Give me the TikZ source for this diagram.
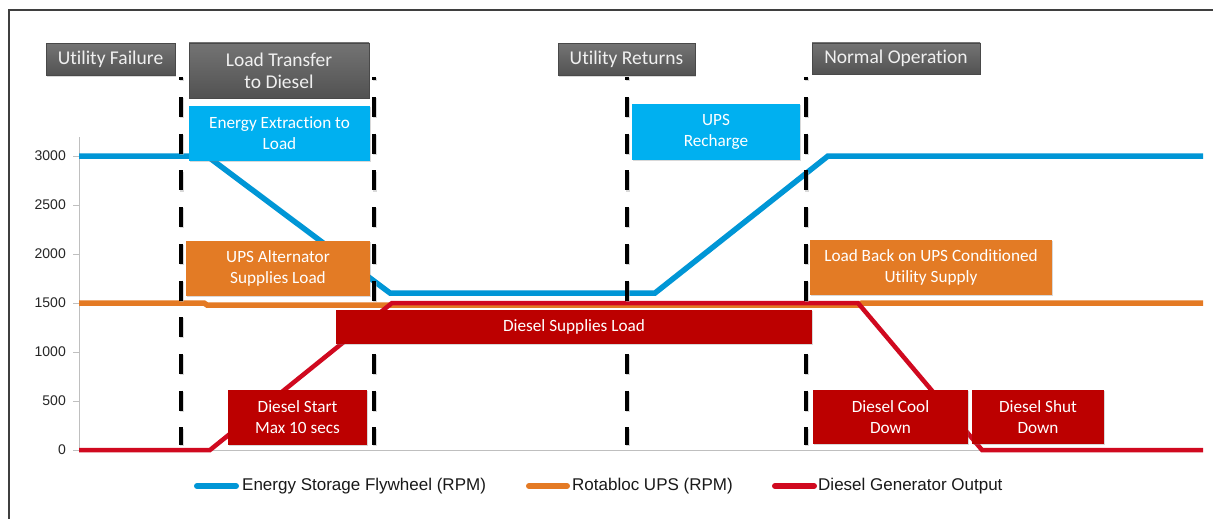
\documentclass[tikz,border=0pt]{standalone}
\usepackage{fontspec}
\newfontfamily\boxfont[Ligatures=NoCommon]{Carlito}
\newfontfamily\axfont{Liberation Sans}
\usetikzlibrary{shadows}
\definecolor{flyblue}{HTML}{0096D6}
\definecolor{upsorange}{HTML}{E47A24}
\definecolor{dieselred}{HTML}{D0091F}
\definecolor{boxblue}{HTML}{00B0F0}
\definecolor{boxorange}{HTML}{E37B25}
\definecolor{boxred}{HTML}{BC0000}
\definecolor{hdrgray}{HTML}{5B5B5B}
\definecolor{hdrtext}{HTML}{F0F0F0}
\definecolor{axgray}{HTML}{BFBFBF}
\definecolor{framegray}{HTML}{3F3F3F}
\begin{document}
\begin{tikzpicture}[x=1pt,y=-1pt,
  basebox/.style={inner sep=0pt, align=center, text=white,
    font=\boxfont\fontsize{17.2}{21}\selectfont,
    drop shadow={shadow xshift=1.2pt, shadow yshift=-1.2pt, opacity=0.3}},
  hdrbox/.style={basebox, top color=hdrgray!85!white, bottom color=hdrgray!90!black,
    draw=hdrgray!80!black, line width=0.6pt, text=hdrtext,
    font=\boxfont\fontsize{19.5}{22}\selectfont},
  bluebox/.style={basebox, fill=boxblue},
  orangebox/.style={basebox, fill=boxorange},
  redbox/.style={basebox, fill=boxred},
  series/.style={line width=5.5pt, line join=miter},
  cutline/.style={line width=4pt, black, dash pattern=on 20pt off 16.7pt, dash phase=16.7pt},
  cutshadow/.style={line width=4pt, black!30, opacity=0.5, dash pattern=on 20pt off 16.7pt, dash phase=16.7pt},
  ticklabel/.style={anchor=east, inner sep=0pt, text=black!85, font=\axfont\fontsize{14}{16}\selectfont},
  legendtext/.style={anchor=west, inner sep=0pt, text=black!90, font=\axfont\fontsize{17}{20}\selectfont},
  legendline/.style={line width=6pt, line cap=round}]
\useasboundingbox (0,0) rectangle (1213,519);
\fill[white] (0,0) rectangle (1213,519);
% frame
\draw[framegray, line width=1.5pt] (9,519) -- (9,10) -- (1213,10);
% axes
\draw[axgray, line width=1pt] (79,137) -- (79,450) -- (1203,450);
\foreach \v/\yy in {0/450,500/401,1000/352,1500/303,2000/254,2500/205,3000/156}{
  \draw[axgray, line width=1pt] (73,\yy) -- (79,\yy);
}
\node[ticklabel] (t0) at (66,450) {0};
\node[ticklabel] (t500) at (66,401) {500};
\node[ticklabel] (t1000) at (66,352) {1000};
\node[ticklabel] (t1500) at (66,303) {1500};
\node[ticklabel] (t2000) at (66,254) {2000};
\node[ticklabel] (t2500) at (66,205) {2500};
\node[ticklabel] (t3000) at (66,156) {3000};
% data series
\draw[series, upsorange] (79,303) -- (204,303) -- (207,305) -- (860,305) -- (862,303) -- (1203,303);
\draw[series, flyblue] (79,156) -- (207,156) -- (390,293) -- (655,293) -- (828,156) -- (1203,156);
\draw[series, dieselred, line width=4.5pt] (79,450) -- (210,450) -- (392,303) -- (858,303) -- (982,450) -- (1203,450);
% dashed event lines
\foreach \xx in {181,374,627,806}{
  \draw[cutshadow] (\xx+1.2,78.2) -- (\xx+1.2,446.2);
  \draw[cutline] (\xx,77) -- (\xx,445);
}
% header boxes
\node[hdrbox, minimum width=129pt, minimum height=32pt] (uf) at (110.5,59.5) {Utility Failure};
\node[hdrbox, minimum width=180pt, minimum height=55pt] (lt) at (279,70.5) {Load Transfer\\to Diesel};
\node[hdrbox, minimum width=137pt, minimum height=32pt] (ur) at (626.5,59.5) {Utility Returns};
\node[hdrbox, minimum width=168pt, minimum height=31pt] (no) at (896,58.5) {Normal Operation};
% blue boxes
\node[bluebox, minimum width=181pt, minimum height=55pt] (ee) at (279.5,133.5) {Energy Extraction to\\Load};
\node[bluebox, minimum width=168pt, minimum height=56pt] (ur2) at (716,132) {UPS\\Recharge};
% orange boxes
\node[orangebox, minimum width=184pt, minimum height=55pt] (ua) at (278,268.5) {UPS Alternator\\Supplies Load};
\node[orangebox, minimum width=242pt, minimum height=55pt] (lb) at (931,267.5) {Load Back on UPS Conditioned\\Utility Supply};
% red boxes
\node[redbox, minimum width=476pt, minimum height=34pt] (dsl) at (574,327) {Diesel Supplies Load};
\node[redbox, minimum width=139pt, minimum height=55pt] (dst) at (297.5,417.5) {Diesel Start\\Max 10 secs};
\node[redbox, minimum width=155pt, minimum height=54pt] (dcd) at (890.5,417) {Diesel Cool\\Down};
\node[redbox, minimum width=132pt, minimum height=54pt] (dsd) at (1038,417) {Diesel Shut\\Down};
% legend
\coordinate (lb1) at (197,486); \coordinate (le1) at (236,486);
\coordinate (lb2) at (529,486); \coordinate (le2) at (567,486);
\coordinate (lb3) at (775,486); \coordinate (le3) at (814,486);
\draw[legendline, flyblue] (lb1) -- (le1);
\draw[legendline, upsorange] (lb2) -- (le2);
\draw[legendline, dieselred] (lb3) -- (le3);
\node[legendtext] (lg1) at (242,486) {Energy Storage Flywheel (RPM)};
\node[legendtext] (lg2) at (572,486) {Rotabloc UPS (RPM)};
\node[legendtext] (lg3) at (818,486) {Diesel Generator Output};
\end{tikzpicture}
\end{document}
